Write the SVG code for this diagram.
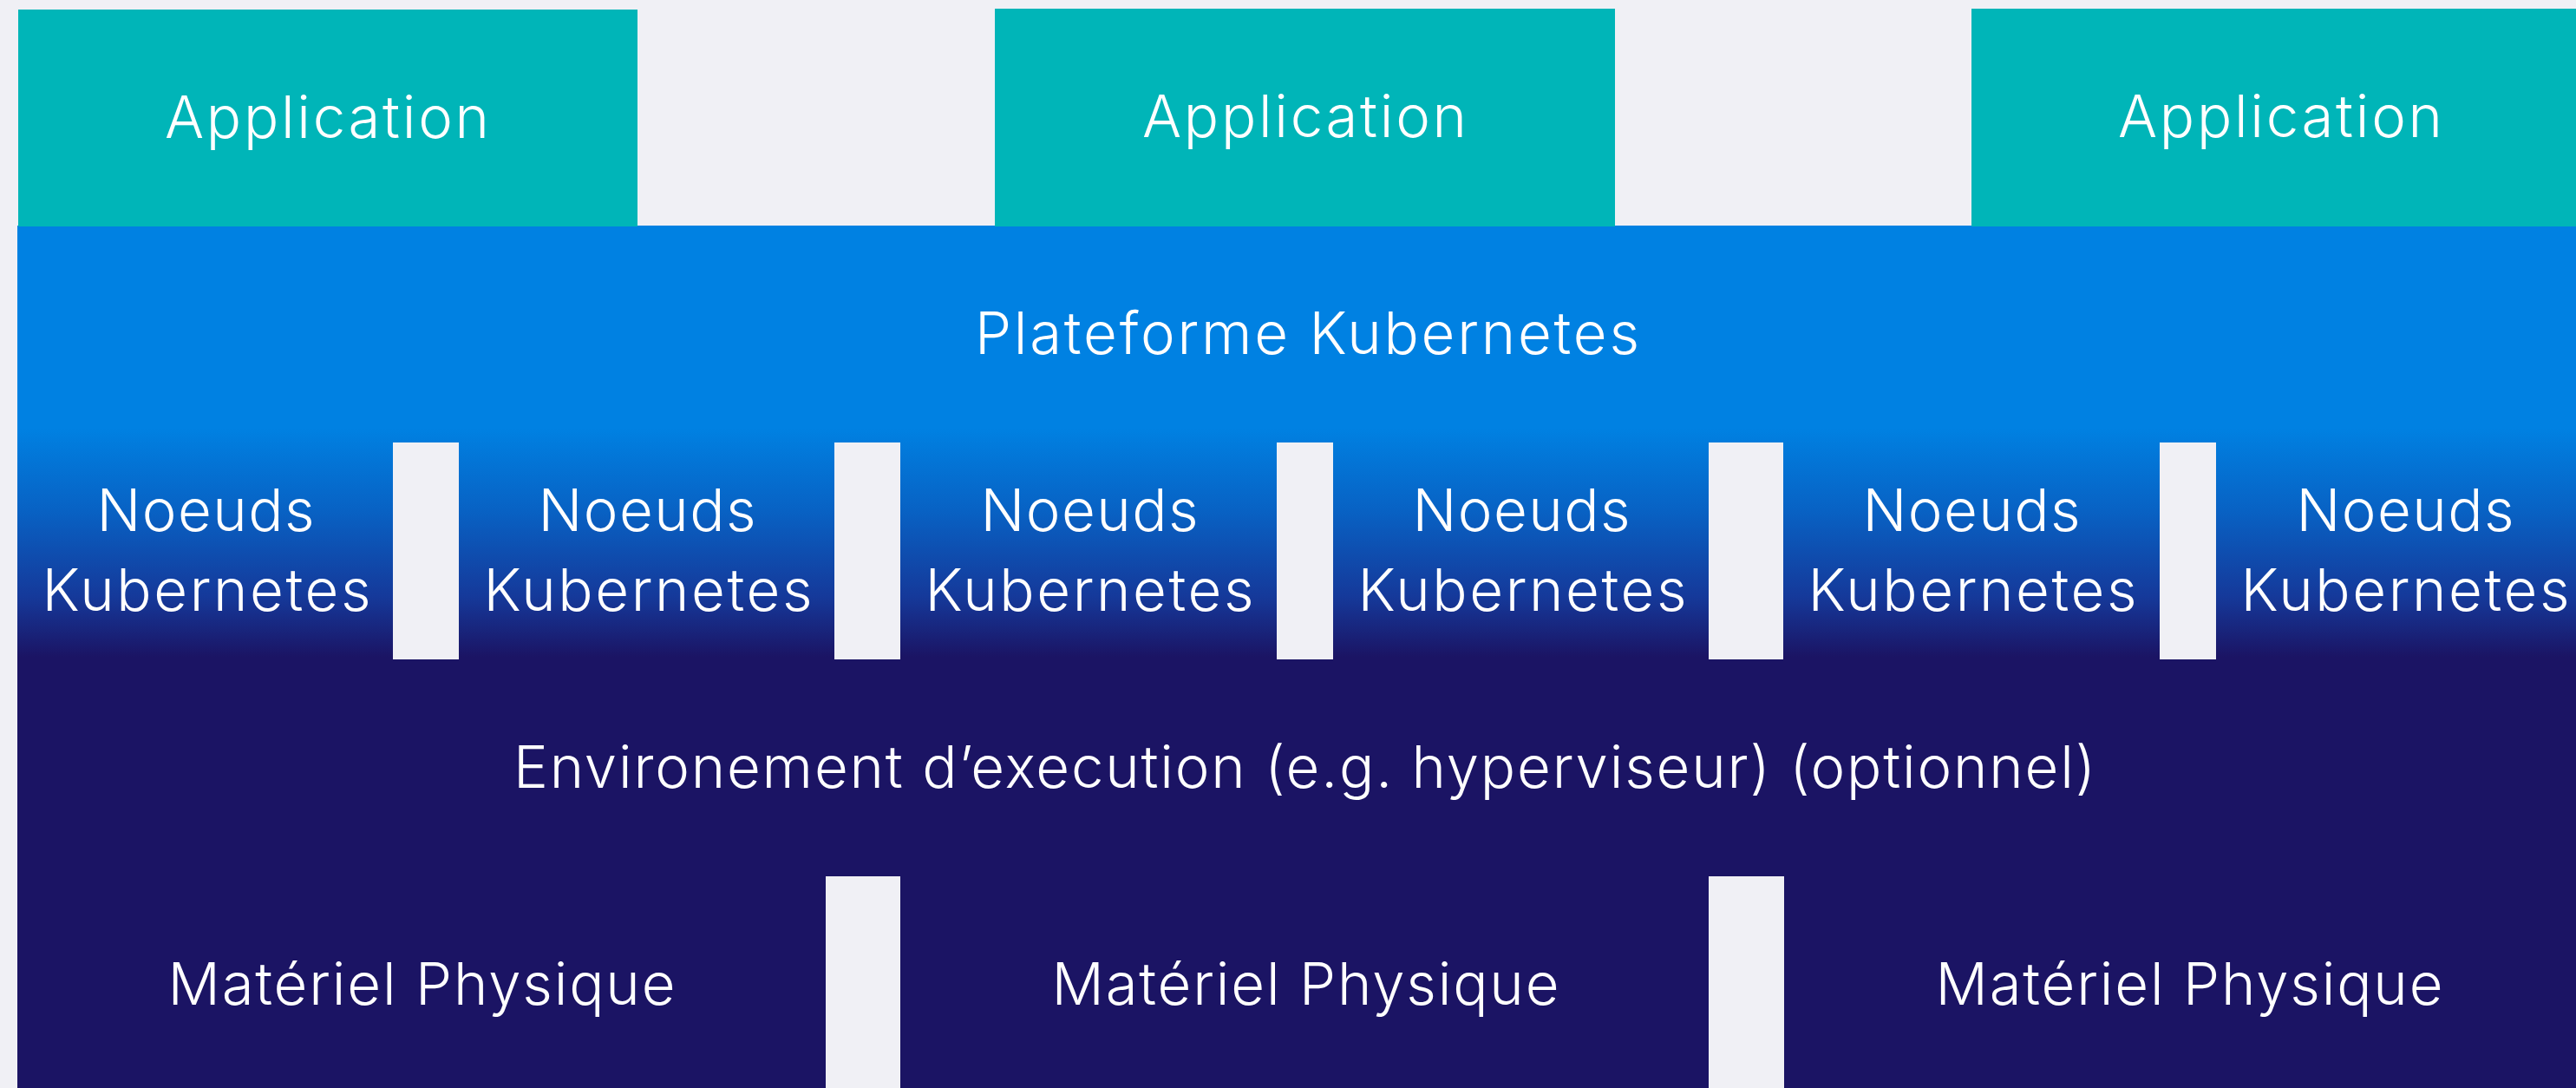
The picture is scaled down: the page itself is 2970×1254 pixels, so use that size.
<svg xmlns="http://www.w3.org/2000/svg" width="2970" height="1254" viewBox="0 0 2970 1254">
  <style>
    .app { fill: #00b5b8; }
    .gap { fill: #f0f0f5; }
    .t { fill: #ffffff; font-family: "Inter", "Open Sans", "Liberation Sans", sans-serif; font-weight: 300; font-size: 67px; text-anchor: middle; }
  </style>
  <defs>
    <linearGradient id="stack" x1="0" y1="260" x2="0" y2="1254" gradientUnits="userSpaceOnUse">
      <stop offset="0" stop-color="#0081e2"/>
      <stop offset="0.235" stop-color="#0081e2"/>
      <stop offset="0.33" stop-color="#0862c4"/>
      <stop offset="0.43" stop-color="#15399a"/>
      <stop offset="0.5" stop-color="#1b1464"/>
      <stop offset="1" stop-color="#1b1464"/>
    </linearGradient>
  </defs>

  <rect x="0" y="0" width="2970" height="1254" fill="#f0f0f5"/>

  <g id="layers">
    <rect x="20" y="260" width="2950" height="994" fill="url(#stack)"/>
  </g>

  <g id="app1">
    <rect class="app" x="21" y="11" width="714" height="250"/>
    <text class="t" x="377" y="159" textLength="374" lengthAdjust="spacing">Application</text>
  </g>
  <g id="app2">
    <rect class="app" x="1147" y="10" width="715" height="251"/>
    <text class="t" x="1504" y="158" textLength="374" lengthAdjust="spacing">Application</text>
  </g>
  <g id="app3">
    <rect class="app" x="2273" y="10" width="697" height="251"/>
    <text class="t" x="2629" y="158" textLength="374" lengthAdjust="spacing">Application</text>
  </g>

  <g id="platform">
    <text class="t" x="1507" y="408" textLength="766" lengthAdjust="spacing">Plateforme Kubernetes</text>
  </g>

  <g id="node-gaps">
    <rect class="gap" x="453" y="510" width="76" height="250"/>
    <rect class="gap" x="962" y="510" width="76" height="250"/>
    <rect class="gap" x="1472" y="510" width="65" height="250"/>
    <rect class="gap" x="1970" y="510" width="86" height="250"/>
    <rect class="gap" x="2490" y="510" width="65" height="250"/>
  </g>

  <g id="node1">
    <text class="t" x="237" y="612" textLength="251" lengthAdjust="spacing">Noeuds</text>
    <text class="t" x="238" y="704" textLength="379" lengthAdjust="spacing">Kubernetes</text>
  </g>
  <g id="node2">
    <text class="t" x="746" y="612" textLength="251" lengthAdjust="spacing">Noeuds</text>
    <text class="t" x="747" y="704" textLength="379" lengthAdjust="spacing">Kubernetes</text>
  </g>
  <g id="node3">
    <text class="t" x="1256" y="612" textLength="251" lengthAdjust="spacing">Noeuds</text>
    <text class="t" x="1256" y="704" textLength="379" lengthAdjust="spacing">Kubernetes</text>
  </g>
  <g id="node4">
    <text class="t" x="1754" y="612" textLength="251" lengthAdjust="spacing">Noeuds</text>
    <text class="t" x="1755" y="704" textLength="379" lengthAdjust="spacing">Kubernetes</text>
  </g>
  <g id="node5">
    <text class="t" x="2273" y="612" textLength="251" lengthAdjust="spacing">Noeuds</text>
    <text class="t" x="2274" y="704" textLength="379" lengthAdjust="spacing">Kubernetes</text>
  </g>
  <g id="node6">
    <text class="t" x="2773" y="612" textLength="251" lengthAdjust="spacing">Noeuds</text>
    <text class="t" x="2773" y="704" textLength="379" lengthAdjust="spacing">Kubernetes</text>
  </g>

  <g id="runtime">
    <text class="t" x="1504" y="908" textLength="1824" lengthAdjust="spacing">Environement d’execution (e.g. hyperviseur) (optionnel)</text>
  </g>

  <g id="hw-gaps">
    <rect class="gap" x="952" y="1010" width="86" height="244"/>
    <rect class="gap" x="1970" y="1010" width="87" height="244"/>
  </g>

  <g id="hw1">
    <text class="t" x="486" y="1158" textLength="585" lengthAdjust="spacing">Matériel Physique</text>
  </g>
  <g id="hw2">
    <text class="t" x="1505" y="1158" textLength="585" lengthAdjust="spacing">Matériel Physique</text>
  </g>
  <g id="hw3">
    <text class="t" x="2524" y="1158" textLength="585" lengthAdjust="spacing">Matériel Physique</text>
  </g>

  <g id="connectors"/>
</svg>
